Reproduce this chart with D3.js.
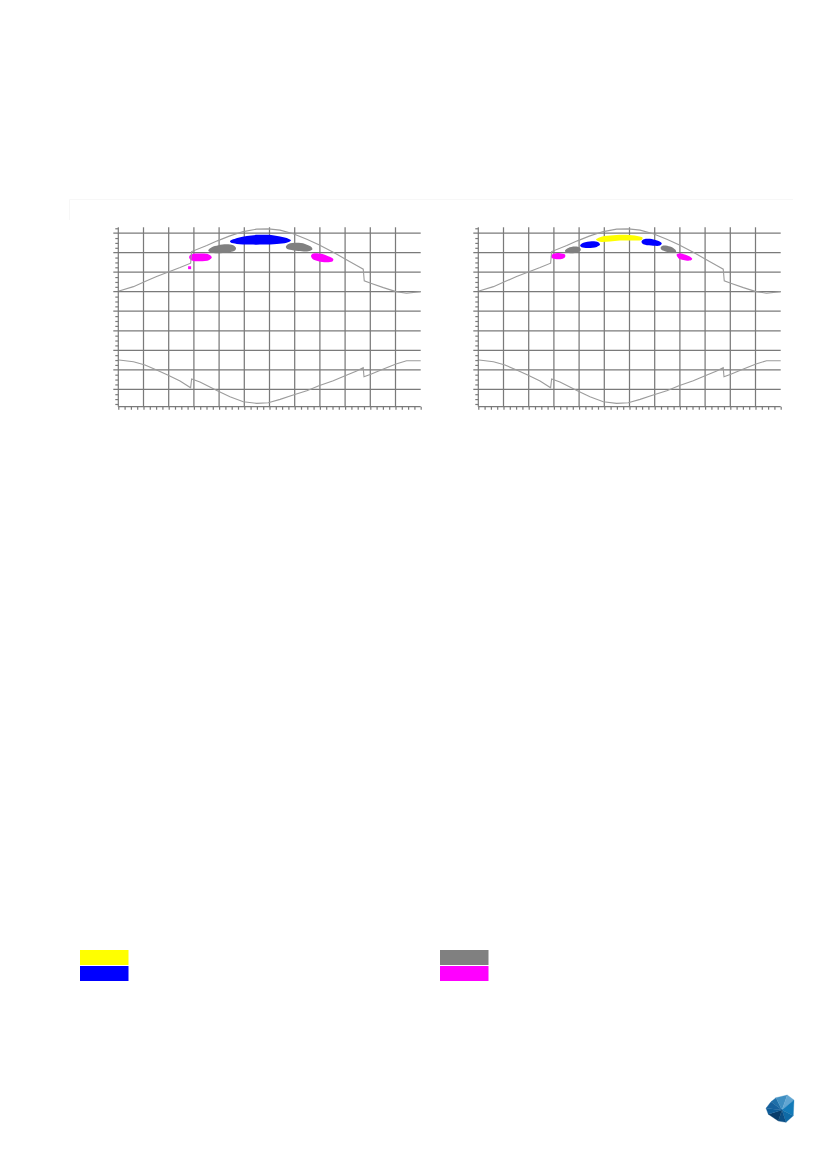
<!DOCTYPE html>
<html>
<head>
<meta charset="utf-8">
<script src="https://cdn.jsdelivr.net/npm/d3@7"></script>
<style>
  html, body { margin: 0; padding: 0; background: #fff; }
  svg { display: block; }
</style>
</head>
<body>
<svg id="chart" width="827" height="1169"></svg>
<script>
// ---------- DATA (month of year 0..12, clock hour) ----------
const monthTicks = d3.range(0, 13);          // major x ticks (month boundaries)
const hourGrid = [6, 8, 10, 12, 14, 16, 18, 20, 22]; // major y ticks (hours)

// upper curve (sunset), [month, hour]
const sunset = [
  [0.03,16.08],[0.6,16.52],[1.06,17.04],[1.52,17.55],[1.96,18.0],[2.45,18.47],[2.87,18.92],
  [2.91,20.11],[3.51,20.73],[3.93,21.21],[4.43,21.72],[4.96,22.16],[5.49,22.41],[5.95,22.44],
  [6.42,22.31],[6.94,21.93],[7.48,21.38],[7.96,20.8],[8.53,20.05],[9.0,19.36],[9.46,18.68],
  [9.72,18.31],[9.76,17.11],[10.02,16.87],[10.52,16.42],[11.02,16.01],[11.44,15.85],[12.0,16.01]
];
// lower curve (sunrise), [month, hour]
const sunrise = [
  [0.03,9.0],[0.6,8.83],[1.06,8.49],[1.52,7.98],[1.96,7.47],[2.45,6.85],[2.87,6.16],
  [2.91,7.06],[3.24,6.75],[3.93,5.86],[4.43,5.24],[4.96,4.73],[5.49,4.56],[5.95,4.63],
  [6.42,4.97],[6.94,5.42],[7.48,5.86],[7.96,6.37],[8.53,6.88],[9.0,7.39],[9.46,7.88],
  [9.72,8.22],[9.75,7.29],[10.02,7.54],[10.52,8.08],[11.02,8.59],[11.44,8.93],[12.0,8.93]
];

const seriesColors = { yellow: "#ffff00", blue: "#0000ff", gray: "#808080", magenta: "#ff00ff" };

// blobs of the left chart: outline points [month, hour]
const leftBlobs = [
  { c: "blue", pts: [[4.43,21.18],[4.76,21.52],[5.10,21.72],[5.56,21.83],[5.95,21.83],[6.42,21.65],[6.75,21.42],[6.85,21.24],[6.68,21.01],[6.29,20.90],[5.75,20.83],[5.23,20.83],[4.70,20.90],[4.46,21.04]] },
  { c: "gray", pts: [[3.57,20.22],[3.71,20.56],[3.97,20.77],[4.30,20.87],[4.56,20.77],[4.67,20.49],[4.63,20.22],[4.43,20.05],[4.04,19.95],[3.71,19.98]] },
  { c: "gray", pts: [[6.65,20.63],[6.75,20.90],[7.08,21.01],[7.41,20.90],[7.67,20.56],[7.70,20.32],[7.54,20.15],[7.14,20.18],[6.81,20.29],[6.68,20.42]] },
  { c: "magenta", pts: [[2.81,19.54],[2.88,19.81],[3.24,19.91],[3.57,19.85],[3.71,19.54],[3.61,19.26],[3.24,19.13],[2.91,19.19]] },
  { c: "magenta", pts: [[7.65,19.70],[7.74,19.91],[8.07,19.88],[8.33,19.64],[8.53,19.36],[8.51,19.13],[8.27,19.03],[7.94,19.13],[7.71,19.36]] },
  { c: "magenta", pts: [[2.77,18.61],[2.89,18.61],[2.89,18.31],[2.77,18.31]], sharp: true }
];
// blobs of the right chart
const rightBlobs = [
  { c: "magenta", pts: [[2.88,19.67],[2.98,19.88],[3.24,19.95],[3.44,19.81],[3.44,19.54],[3.31,19.36],[3.04,19.36],[2.91,19.47]] },
  { c: "gray", pts: [[3.44,20.22],[3.57,20.49],[3.84,20.63],[4.04,20.49],[4.06,20.22],[3.90,19.98],[3.64,19.95],[3.48,20.01]] },
  { c: "blue", pts: [[4.04,20.73],[4.17,21.01],[4.50,21.18],[4.76,21.08],[4.83,20.83],[4.70,20.59],[4.37,20.49],[4.10,20.56]] },
  { c: "yellow", pts: [[4.67,21.34],[4.83,21.59],[5.23,21.75],[5.75,21.83],[6.21,21.75],[6.52,21.52],[6.48,21.31],[6.15,21.24],[5.62,21.24],[5.23,21.14],[4.83,21.11]] },
  { c: "blue", pts: [[6.48,21.18],[6.58,21.38],[6.81,21.42],[7.10,21.24],[7.28,20.97],[7.21,20.73],[6.94,20.70],[6.62,20.80],[6.50,20.97]] },
  { c: "gray", pts: [[7.24,20.56],[7.34,20.73],[7.61,20.63],[7.81,20.32],[7.85,20.08],[7.67,19.98],[7.40,20.15],[7.26,20.32]] },
  { c: "magenta", pts: [[7.87,19.81],[8.00,19.95],[8.20,19.81],[8.39,19.60],[8.49,19.36],[8.39,19.19],[8.13,19.26],[7.94,19.44]] }
];

const legendColors = [["yellow", "blue"], ["gray", "magenta"]];

// ---------- DRAWING ----------
const svg = d3.select("#chart");
const yDomain = [4.22, 22.6];

// very faint separator line above the charts
svg.append("path").attr("d", "M69.5,220 L69.5,199.5 L793,199.5")
  .attr("fill", "none").attr("stroke", "#f7f7f7").attr("stroke-width", 1);

function drawChart(x0, x1, blobs) {
  const x = d3.scaleLinear().domain([0, 12]).range([x0, x1]);
  const y = d3.scaleLinear().domain(yDomain).range([406.7, 227.3]);
  const g = svg.append("g");
  const gridColor = "#7a7a7a";

  // horizontal grid lines
  g.selectAll("line.h").data(hourGrid).join("line")
    .attr("x1", x(0) - 5).attr("x2", x(12))
    .attr("y1", d => y(d)).attr("y2", d => y(d))
    .attr("stroke", gridColor).attr("stroke-width", 1.25);
  // vertical grid lines (months)
  g.selectAll("line.v").data(monthTicks.filter(m => m > 0 && m < 12)).join("line")
    .attr("x1", d => x(d)).attr("x2", d => x(d))
    .attr("y1", y(yDomain[1])).attr("y2", y(yDomain[0]))
    .attr("stroke", gridColor).attr("stroke-width", 1.25);

  // left axis
  const yMinor = d3.range(4.5, 22.6, 0.5).filter(v => !hourGrid.includes(v));
  const yAxis = d3.axisLeft(y).tickValues(yMinor).tickSize(3).tickFormat("");
  const ya = g.append("g").attr("transform", `translate(${x(0)},0)`).call(yAxis);
  ya.selectAll("path,line").attr("stroke", gridColor).attr("stroke-width", 1.2);
  ya.select(".domain").attr("d", `M0,${y(yDomain[1])}V${y(yDomain[0])}`);

  // bottom axis
  const xMinor = d3.range(0, 12.01, 0.25);
  const xAxis = d3.axisBottom(x).tickValues(xMinor).tickSize(3).tickFormat("");
  const xa = g.append("g").attr("transform", `translate(0,${y(yDomain[0])})`).call(xAxis);
  xa.selectAll("path,line").attr("stroke", gridColor).attr("stroke-width", 1.2);
  xa.select(".domain").attr("d", `M${x(0)},0H${x(12)}`);

  // blobs
  const blobLine = d3.line().x(d => x(d[0])).y(d => y(d[1])).curve(d3.curveCatmullRomClosed.alpha(0.5));
  const sharpLine = d3.line().x(d => x(d[0])).y(d => y(d[1])).curve(d3.curveLinearClosed);
  g.selectAll("path.blob").data(blobs).join("path")
    .attr("d", d => (d.sharp ? sharpLine : blobLine)(d.pts))
    .attr("fill", d => seriesColors[d.c]).attr("stroke", "none");

  // curves
  const line = d3.line().x(d => x(d[0])).y(d => y(d[1]));
  [sunset, sunrise].forEach(s => {
    g.append("path").attr("d", line(s)).attr("fill", "none")
      .attr("stroke", "#9c9c9c").attr("stroke-width", 1.1);
  });
}

drawChart(118.3, 420.7, leftBlobs);
drawChart(478.3, 780.7, rightBlobs);

// legend swatches
const legendX = [80, 440];
legendColors.forEach((col, i) => {
  col.forEach((c, j) => {
    svg.append("rect").attr("x", legendX[i]).attr("y", 950 + j * 16)
      .attr("width", 48.5).attr("height", 15)
      .attr("fill", seriesColors[c]);
  });
});

// logo (faceted gem)
const logo = svg.append("g");
const ctr = [782, 1110];
const outline = [[771,1101.7],[776,1097.7],[787.3,1095],[794,1100],[793.3,1115.7],[786,1122.3],[778.3,1121],[768.3,1114.3],[766,1108.3]];
const facetCols = ["#1f6fa8","#3f8fc2","#62a6d2","#137ab8","#0f6aa6","#0b4f86","#083c6a","#0d5c98","#15609c"];
outline.forEach((p, i) => {
  const q = outline[(i + 1) % outline.length];
  logo.append("path").attr("d", `M${ctr}L${p}L${q}Z`).attr("fill", facetCols[i]).attr("stroke", facetCols[i]).attr("stroke-width", 0.3);
});
</script>
</body>
</html>
